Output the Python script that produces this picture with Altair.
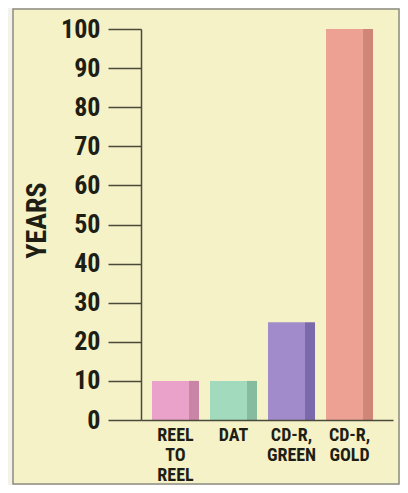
import altair as alt
import pandas as pd

categories = ["REEL TO REEL", "DAT", "CD-R, GREEN", "CD-R, GOLD"]
years = [10, 10, 25, 100]
face_colors = ["#eaa2cb", "#a2dabd", "#a28bcb", "#eda192"]
side_colors = ["#c985a6", "#86bba0", "#7b6aab", "#d08676"]
y_ticks = [0, 10, 20, 30, 40, 50, 60, 70, 80, 90, 100]

FONT = "Roboto Condensed, DejaVu Sans Condensed, sans-serif"
INK = "#1e1e14"
LINE = "#4a4a3a"

df = pd.DataFrame({"medium": categories, "years": years,
                   "face": face_colors, "side": side_colors})

x_enc = alt.X(
    "medium:N", sort=categories,
    scale=alt.Scale(paddingInner=0, paddingOuter=0.172, align=0.275),
    axis=alt.Axis(title=None, labelExpr="split(datum.label, ' ')", labelAngle=0,
                  ticks=False, domainColor=LINE, domainWidth=1.5,
                  labelFont=FONT, labelFontSize=18, labelFontWeight="bold",
                  labelLineHeight=20, labelPadding=6, labelColor=INK,
                  labelBaseline="top", zindex=1, labelOverlap=False),
)
y_enc = alt.Y(
    "years:Q", scale=alt.Scale(domain=[0, 100], nice=False),
    axis=alt.Axis(values=y_ticks, tickCount=11, tickSize=33, tickColor=LINE, tickWidth=1.5,
                  domainColor=LINE, domainWidth=1.5, grid=False, labelOverlap=False,
                  labelFont=FONT, labelFontSize=26, labelFontWeight="bold",
                  labelColor=INK, labelPadding=8,
                  title="YEARS", titleFont=FONT, titleFontSize=28,
                  titleFontWeight="bold", titleColor=INK, titleAngle=-90,
                  titleX=-104, titleY=191, titleAlign="center",
                  titleBaseline="middle", zindex=1),
)

frame = alt.Chart(pd.DataFrame({"k": [0]})).mark_rect(
    fill="#f5f2c8", stroke="#8c8c80", strokeWidth=1.5
).encode(x=alt.value(-128), x2=alt.value(258), y=alt.value(-20), y2=alt.value(455))

face = alt.Chart(df).mark_bar(width=37, xOffset=-5).encode(
    x=x_enc, y=y_enc, color=alt.Color("face:N", scale=None)
)
side = alt.Chart(df).mark_bar(width=10, xOffset=18.5).encode(
    x=x_enc, y=y_enc, color=alt.Color("side:N", scale=None)
)

chart = alt.layer(frame, face, side).properties(
    width=252, height=391,
    autosize=alt.AutoSizeParams(type="none"),
    padding={"left": 133, "top": 21, "right": 7, "bottom": 65},
    background="#f3f3ec",
).configure_view(strokeWidth=0)

chart.save("out.html", embed_options={"renderer": "svg", "actions": False})
